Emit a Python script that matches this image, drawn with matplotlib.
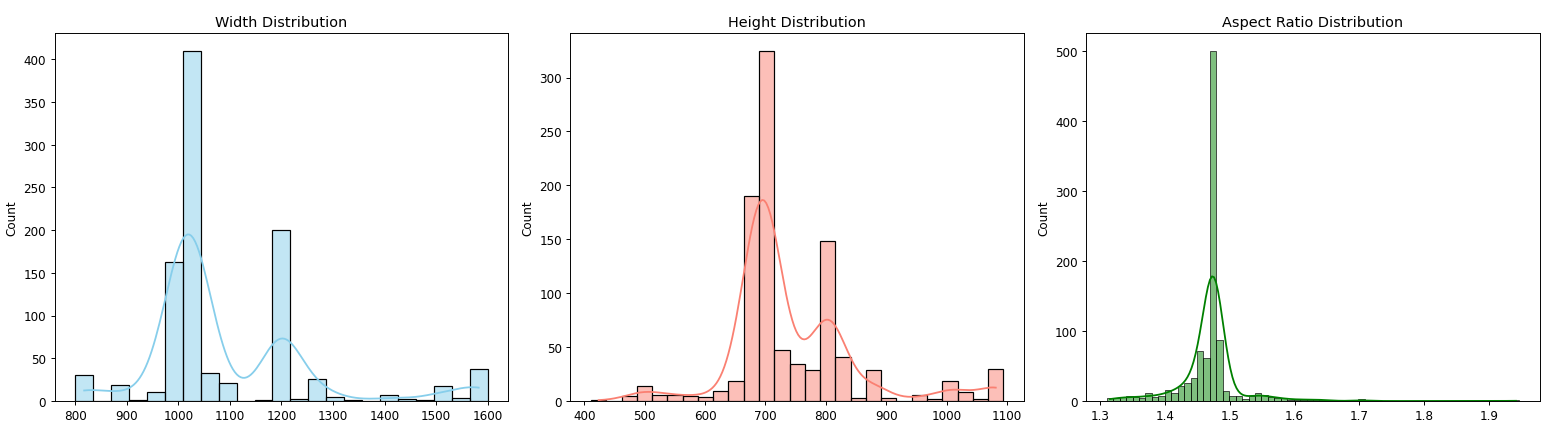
import numpy as np
import matplotlib
matplotlib.use("Agg")
import matplotlib.pyplot as plt
import seaborn as sns

# bin counts
width_range = (800, 1600)
width_counts = [31, 0, 19, 1, 10, 163, 410, 33, 21, 0, 1, 200, 2, 26,
                5, 1, 0, 7, 2, 1, 18, 4, 38]

height_range = (411, 1094)
height_counts = [1, 0, 5, 14, 6, 6, 5, 4, 9, 19, 190, 325, 47, 34,
                 29, 148, 41, 3, 29, 3, 0, 6, 2, 19, 8, 2, 30]

aspect_range = (1.31, 1.947)
aspect_counts = [4, 4, 5, 7, 5, 4, 11, 5, 7, 16, 11, 22, 25, 33, 72, 62,
                 500, 87, 14, 7, 7, 3, 7, 11, 8, 6, 4, 4, 2, 2, 2, 2, 2,
                 2, 1, 0, 0, 0, 0, 3, 0, 0, 0, 0, 0, 0, 0, 0, 0, 0, 0, 0,
                 0, 0, 0, 0, 0, 0, 0, 0, 0, 0, 0, 1]

panels = [
    ("Width Distribution", width_range, width_counts, "skyblue", 1.0),
    ("Height Distribution", height_range, height_counts, "salmon", 1.0),
    ("Aspect Ratio Distribution", aspect_range, aspect_counts, "green", 1.3),
]

fig, axes = plt.subplots(1, 3, figsize=(18, 5.03), dpi=86.67)
fig.subplots_adjust(left=0.035, right=0.987, top=0.922, bottom=0.078, wspace=0.137)

for ax, (title, rng, counts, color, bw) in zip(axes, panels):
    edges = np.linspace(rng[0], rng[1], len(counts) + 1)
    centers = (edges[:-1] + edges[1:]) / 2
    values = np.repeat(centers, counts)
    sns.histplot(x=values, bins=edges, kde=True, color=color, ax=ax,
                 kde_kws={"bw_adjust": bw})
    ax.set_title(title)
    ax.set_ylabel("Count")
    ax.set_xlabel("")

plt.savefig("out.png")
